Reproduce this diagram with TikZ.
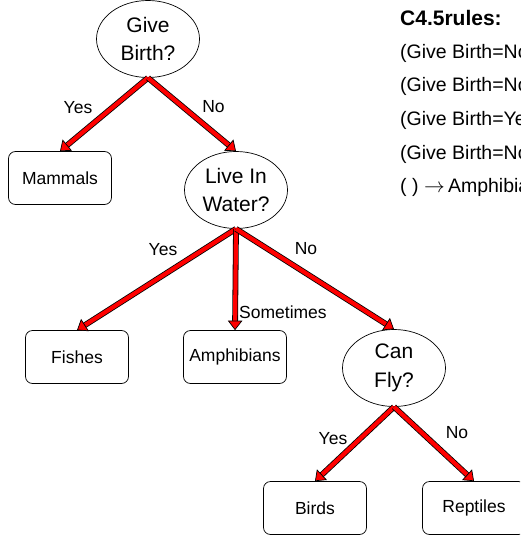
\documentclass[tikz,border=0pt]{standalone}
\usepackage{fontspec}
\setmainfont{Liberation Sans}
\usetikzlibrary{arrows.meta,shapes.geometric}
\begin{document}
\begin{tikzpicture}[x=1pt,y=-1pt]
    \tikzstyle{decision} = [ellipse, draw=black, line width=0.7pt, align=center,
        minimum width=103pt, minimum height=77pt, inner sep=0pt,
        font=\fontsize{21}{28.5}\selectfont]
    \tikzstyle{leaf} = [rectangle, draw=black, line width=0.7pt, rounded corners=7pt,
        minimum width=103pt, minimum height=53pt,
        font=\fontsize{17.5}{21}\selectfont]
    \tikzstyle{lbl} = [inner sep=0pt, font=\fontsize{17.5}{21}\selectfont]
    \tikzstyle{rule} = [inner sep=0pt, anchor=base west,
        font=\fontsize{19.5}{23}\selectfont]
    \tikzstyle{branch} = [draw=red, line width=4.2pt,
        -{Triangle[length=9.5pt, width=14.5pt, line width=0.7pt, color=black, fill=red]},
        preaction={draw=black, line width=5.8pt, -, shorten >=6pt}]

    \clip (0,0) rectangle (520,535);

    % tree
    \node(givebirth) [decision] at (148,39) {Give\\Birth?};
    \node(mammals) [leaf] at (60,178) {Mammals};
    \node(water) [decision] at (236,190) {Live In\\Water?};
    \node(fishes) [leaf] at (77,357) {Fishes};
    \node(amphib) [leaf] at (235,357) {Amphibians};
    \node(canfly) [decision] at (394,368) {Can\\Fly?};
    \node(birds) [leaf] at (315,508) {Birds};
    \node(reptiles) [leaf] at (474,508) {Reptiles};

    \draw[branch] (givebirth.south) -- (mammals.north);
    \draw[branch] (givebirth.south) -- (water.north);
    \draw[branch] (water.south) -- (fishes.north);
    \draw[branch] (water.south) -- (amphib.north);
    \draw[branch] (water.south) -- (canfly.north);
    \draw[branch] (canfly.south) -- (birds.north);
    \draw[branch] (canfly.south) -- (reptiles.north);

    \node(yesbirth) [lbl] at (78,108) {Yes};
    \node(nobirth) [lbl] at (213.5,107) {No};
    \node(yeswater) [lbl] at (163,250) {Yes};
    \node(nowater) [lbl] at (306,249) {No};
    \node(sometimes) [lbl, anchor=west] at (239,312.5) {Sometimes};
    \node(yesfly) [lbl] at (333,438.5) {Yes};
    \node(nofly) [lbl] at (457,432.5) {No};

    % rules
    \node(rulehead) [rule, font=\fontsize{21}{25}\selectfont\bfseries]
        at (400,26) {C4.5rules:};
    \node(ruleA) [rule] at (400,58.5) {(Give Birth=No};
    \node(ruleB) [rule] at (400,92) {(Give Birth=No};
    \node(ruleC) [rule] at (400,125.5) {(Give Birth=Ye};
    \node(ruleD) [rule] at (400,159) {(Give Birth=No};
    \node(ruleE) [rule] at (400,192.5) {( ) $\rightarrow$\,Amphibia};
\end{tikzpicture}
\end{document}
